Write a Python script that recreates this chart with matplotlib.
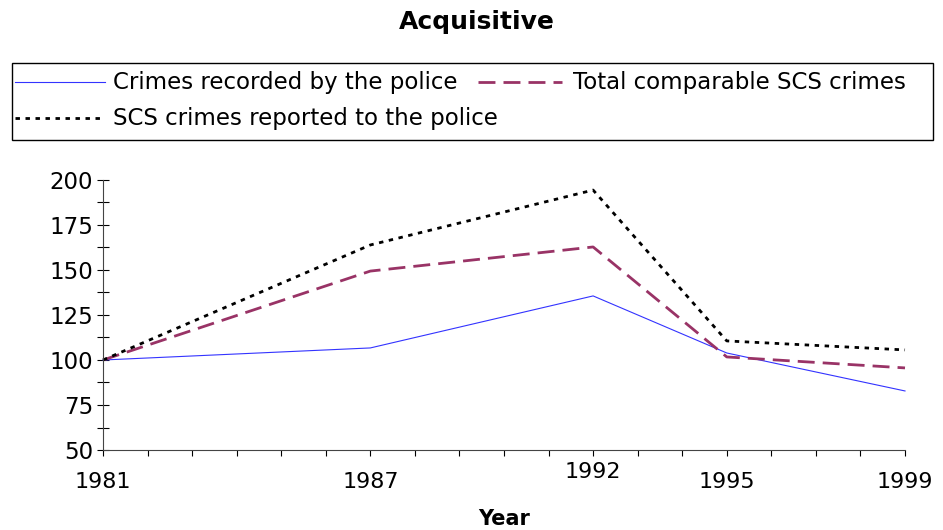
import matplotlib
matplotlib.use('Agg')
import matplotlib.pyplot as plt
from matplotlib.lines import Line2D
from matplotlib.patches import Rectangle
from matplotlib.ticker import MultipleLocator

# ── Data ──────────────────────────────────────────────────────────────────────
YEARS          = [1981, 1987, 1992, 1995, 1999]
POLICE         = [100, 106.7, 135.6, 103.9, 82.8]
SCS_TOTAL      = [100, 149.4, 162.8, 101.7, 95.6]
SCS_REPORTED   = [100, 163.9, 194.4, 110.6, 105.6]
YEAR_LABELS    = ['1981', '1987', '1992', '1995', '1999']

LABEL_POLICE   = 'Crimes recorded by the police'
LABEL_TOTAL    = 'Total comparable SCS crimes'
LABEL_REPORTED = 'SCS crimes reported to the police'

BLUE   = '#3333ff'
PLUM   = '#993366'
W, H   = 943, 530


def fx(px):
    return px / W


def fy(py):
    return 1 - py / H


fig = plt.figure(figsize=(W / 100, H / 100), dpi=100)
ax = fig.add_axes([fx(103), fy(450), fx(905) - fx(103), fy(180) - fy(450)])

ax.plot(YEARS, POLICE, color=BLUE, linewidth=0.8, clip_on=False)
ax.plot(YEARS, SCS_TOTAL, color=PLUM, linewidth=2, dashes=(6.1, 2.9), clip_on=False)
ax.plot(YEARS, SCS_REPORTED, color='black', linewidth=2, dashes=(1.6, 2.0), clip_on=False)

ax.set_xlim(1981, 1999)
ax.set_ylim(50, 200)
for s in ('top', 'right'):
    ax.spines[s].set_visible(False)
ax.spines['left'].set_color('#444444')
ax.spines['bottom'].set_color('#444444')

ax.set_xticks(YEARS)
ax.set_xticklabels(YEAR_LABELS)
ax.xaxis.set_minor_locator(MultipleLocator(1))
ax.yaxis.set_major_locator(MultipleLocator(25))
ax.yaxis.set_minor_locator(MultipleLocator(12.5))
ax.tick_params(axis='x', which='both', direction='out', length=4, width=0.8,
               pad=12, labelsize=16)
ax.tick_params(axis='y', which='both', direction='inout', length=8, width=0.8,
               pad=3, labelsize=16.5)
ax.xaxis.get_major_ticks()[2].set_pad(5)

ax.set_xlabel('Year', fontsize=15, fontweight='bold', labelpad=12)

fig.text(fx(477), fy(22), 'Acquisitive', ha='center', va='center',
         fontsize=18, fontweight='bold')

# ── Legend (flow layout, drawn by hand) ──────────────────────────────────────
fig.patches.append(Rectangle((fx(12), fy(140)), fx(933) - fx(12), fy(63) - fy(140),
                             transform=fig.transFigure, fill=False,
                             edgecolor='black', linewidth=1))
entries = [
    (15, 105, 113, 82, dict(color=BLUE, linewidth=0.8), LABEL_POLICE),
    (478, 562, 573, 82, dict(color=PLUM, linewidth=2, dashes=(6.1, 2.9)), LABEL_TOTAL),
    (15, 100, 113, 118, dict(color='black', linewidth=2, dashes=(1.6, 2.0)), LABEL_REPORTED),
]
for x0, x1, tx, yy, style, label in entries:
    fig.lines.append(Line2D([fx(x0), fx(x1)], [fy(yy), fy(yy)],
                            transform=fig.transFigure, **style))
    fig.text(fx(tx), fy(yy), label, ha='left', va='center', fontsize=16.5)

fig.savefig('out.png', dpi=100)
